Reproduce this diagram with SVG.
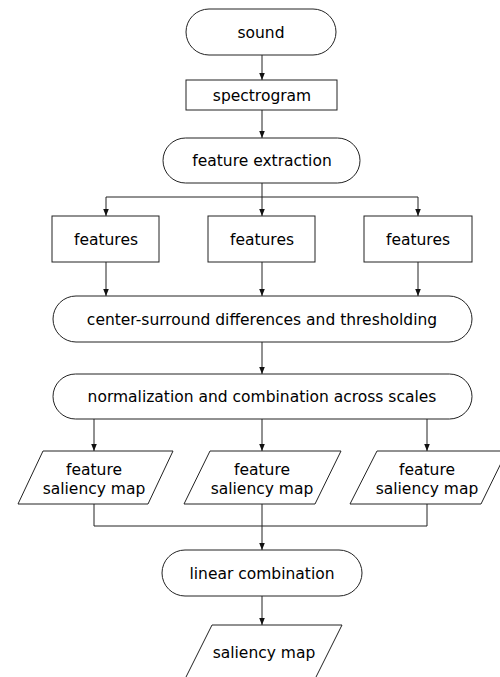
<svg xmlns="http://www.w3.org/2000/svg" width="500" height="677" viewBox="0 0 500 677">
<style>
.n{fill:#fff;stroke:#222;stroke-width:1}
.t{font-family:"DejaVu Sans",sans-serif;font-size:15.5px;fill:#000;text-anchor:middle}
.c{fill:none;stroke:#222;stroke-width:1}
</style>
<defs>
<marker id="a" viewBox="0 0 10 10" refX="10" refY="5" markerWidth="7" markerHeight="7" markerUnits="userSpaceOnUse" orient="auto">
<path d="M0,1 L10,5 L0,9 z" fill="#111"/>
</marker>
</defs>
<rect width="500" height="677" fill="#fff"/>
<g id="connectors">
<path class="c" d="M262,55 V80" marker-end="url(#a)"/>
<path class="c" d="M262,110 V138" marker-end="url(#a)"/>
<path class="c" d="M262,183 V216" marker-end="url(#a)"/>
<path class="c" d="M262,197 H106 V216" marker-end="url(#a)"/>
<path class="c" d="M262,197 H418 V216" marker-end="url(#a)"/>
<path class="c" d="M106,262 V296" marker-end="url(#a)"/>
<path class="c" d="M262,262 V296" marker-end="url(#a)"/>
<path class="c" d="M418,262 V296" marker-end="url(#a)"/>
<path class="c" d="M262,342 V374" marker-end="url(#a)"/>
<path class="c" d="M94,419 V451" marker-end="url(#a)"/>
<path class="c" d="M262,419 V451" marker-end="url(#a)"/>
<path class="c" d="M427,419 V451" marker-end="url(#a)"/>
<path class="c" d="M94,504 V526 H427 V504"/>
<path class="c" d="M262,504 V550" marker-end="url(#a)"/>
<path class="c" d="M262,596 V625" marker-end="url(#a)"/>
</g>
<g id="sound"><rect class="n" x="186" y="9" width="150" height="46" rx="23"/><text class="t" x="261" y="37.5">sound</text></g>
<g id="spectrogram"><rect class="n" x="186" y="80" width="151" height="30"/><text class="t" x="262" y="100.5">spectrogram</text></g>
<g id="feature-extraction"><rect class="n" x="163" y="138" width="197" height="45" rx="22.5"/><text class="t" x="262" y="166">feature extraction</text></g>
<g id="features-1"><rect class="n" x="52" y="216" width="107" height="46"/><text class="t" x="106" y="244.5">features</text></g>
<g id="features-2"><rect class="n" x="208" y="216" width="107" height="46"/><text class="t" x="262" y="244.5">features</text></g>
<g id="features-3"><rect class="n" x="364" y="216" width="108" height="46"/><text class="t" x="418" y="244.5">features</text></g>
<g id="center-surround"><rect class="n" x="53" y="296" width="419" height="46" rx="23"/><text class="t" x="262" y="324.5">center-surround differences and thresholding</text></g>
<g id="normalization"><rect class="n" x="53" y="374" width="419" height="45" rx="22.5"/><text class="t" x="262" y="402">normalization and combination across scales</text></g>
<g id="fsm-1"><path class="n" d="M43,451 H173 L148,504 H18 Z"/><text class="t" x="94" y="475">feature</text><text class="t" x="94" y="494">saliency map</text></g>
<g id="fsm-2"><path class="n" d="M210,451 H341 L315,504 H184 Z"/><text class="t" x="262" y="475">feature</text><text class="t" x="262" y="494">saliency map</text></g>
<g id="fsm-3"><path class="n" d="M377,451 H507 L481,504 H350 Z"/><text class="t" x="427" y="475">feature</text><text class="t" x="427" y="494">saliency map</text></g>
<g id="linear-combination"><rect class="n" x="162" y="550" width="200" height="46" rx="23"/><text class="t" x="262" y="578.5">linear combination</text></g>
<g id="saliency-map"><path class="n" d="M212,625 H342 L315,679 H185 Z"/><text class="t" x="264" y="658">saliency map</text></g>
</svg>
